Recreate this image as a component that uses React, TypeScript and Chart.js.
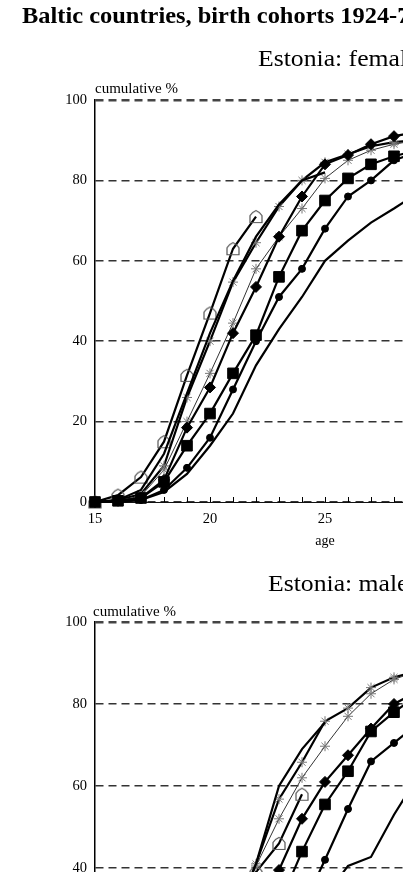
import React, { useEffect, useRef } from "react";
import { Chart, registerables } from "chart.js";

Chart.register(...registerables);

// ages 15..35 ; each series array starts at age 15
const ages = [15, 16, 17, 18, 19, 20, 21, 22, 23, 24, 25, 26, 27, 28, 29, 30, 31, 32, 33, 34, 35];
const xTickLabels = [15, 20, 25, 30, 35];
const yTickLabels = [0, 20, 40, 60, 80, 100];

// Estonia: females (cumulative %)
const femPlain = [0, 0, 0.5, 2.5, 7, 14, 22, 34, 43, 51, 60, 65, 69.5, 73, 76.7, 78.5];
const femCircle = [0, 0, 0.5, 3, 8.5, 16, 28, 40, 51, 58, 68, 76, 80, 85, 87, 88];
const femSquare = [0, 0.3, 1, 5, 14, 22, 32, 41.5, 56, 67.5, 75, 80.5, 84, 86, 87.5, 88.5];
const femDiamond = [0, 0.3, 1, 5.5, 18.5, 28.5, 42, 53.5, 66, 76, 84, 86.3, 89, 91, 92, 92.5];
const femStarThick = [0, 0.5, 2, 9, 26, 40, 54.7, 64.5, 73.5, 80, 84.5, 86.5, 88.5, 89.5, 90, 90.5];
const femStarThin = [0, 0.3, 1.5, 8, 20, 32, 44.5, 58, 66, 73, 80.5, 85, 87.5, 89, 90, 90.5];
const femPlain2 = [0, 0.5, 3, 12, 27, 42, 55, 66, 74, 80, 82];
const femPentagon = [0, 1.7, 6.2, 15, 31.5, 47, 63, 71];

// Estonia: males (cumulative %)
const malPlain = [0, 0, 0, 0.5, 1, 2, 3, 5, 10, 20, 33, 40.5, 42.7, 53, 62, 66];
const malCircle = [0, 0, 0, 0.5, 1, 2.5, 5, 11, 20, 30, 42, 54.4, 66, 70.5, 75, 78];
const malSquare = [0, 0, 0, 0.5, 1.5, 4, 9, 19, 31, 44, 55.5, 63.6, 73.3, 78, 82, 84];
const malDiamond = [0, 0, 0.3, 1, 2.5, 6, 14, 27, 39.5, 52, 61, 67.5, 74, 80, 83, 85];
const malStarThick = [0, 0, 0.5, 2, 6, 14, 27, 41, 56.8, 65.8, 75.8, 79, 84, 86.5, 88, 89];
const malStarThin = [0, 0, 0.3, 1.5, 5, 13, 26, 40.5, 52, 62, 69.7, 77, 82.5, 86, 88, 89];
const malPlain2 = [0, 0, 0.5, 2, 7, 15, 27, 41, 60, 69, 75.5];
const malPentagon = [0, 0, 0.5, 2, 6, 15, 27, 39, 46, 58];

const SERIF = "'Liberation Serif', 'Times New Roman', serif";

function makePentagon(): HTMLCanvasElement {
  const c = document.createElement("canvas");
  c.width = 16;
  c.height = 15;
  const g = c.getContext("2d")!;
  g.strokeStyle = "#555";
  g.lineWidth = 1.2;
  g.beginPath();
  g.moveTo(2, 13.5);
  g.lineTo(2, 6.5);
  g.quadraticCurveTo(4, 3, 8, 1.5);
  g.quadraticCurveTo(12, 3, 14, 6.5);
  g.lineTo(14, 13.5);
  g.closePath();
  g.stroke();
  return c;
}

function pts(arr: number[]) {
  return arr.map((v, i) => ({ x: ages[i], y: v }));
}

function buildDatasets(s: {
  plain: number[]; circle: number[]; square: number[]; diamond: number[];
  starThick: number[]; starThin: number[]; plain2: number[]; pentagon: number[];
}) {
  const pent = makePentagon();
  const base = { tension: 0, clip: false as const, borderColor: "#000", borderWidth: 2.2 };
  return [
    { ...base, label: "plain", data: pts(s.plain), pointRadius: 0 },
    { ...base, label: "circle", data: pts(s.circle), pointStyle: "circle", pointRadius: 3.5, pointBackgroundColor: "#000", pointBorderColor: "#000", pointBorderWidth: 1 },
    { ...base, label: "square", data: pts(s.square), pointStyle: "rect", pointRadius: 7.5, pointBackgroundColor: "#000", pointBorderColor: "#000", pointBorderWidth: 1 },
    { ...base, label: "diamond", data: pts(s.diamond), pointStyle: "rectRot", pointRadius: 5.5, pointBackgroundColor: "#000", pointBorderColor: "#000", pointBorderWidth: 1 },
    { ...base, label: "plain2", data: pts(s.plain2), pointRadius: 0 },
    { ...base, label: "starThin", data: pts(s.starThin), borderWidth: 1, borderColor: "#333", pointStyle: "star", pointRadius: 5, pointBorderColor: "#777", pointBackgroundColor: "#777", pointBorderWidth: 1 },
    { ...base, label: "starThick", data: pts(s.starThick), pointStyle: "star", pointRadius: 5, pointBorderColor: "#777", pointBackgroundColor: "#777", pointBorderWidth: 1 },
    { ...base, label: "pentagon", data: pts(s.pentagon), pointStyle: pent, pointRadius: 7 },
  ];
}

const innerTicks = {
  id: "innerTicks",
  afterDatasetsDraw(chart: any) {
    const { ctx, chartArea } = chart;
    const x = chart.scales.x;
    ctx.save();
    ctx.strokeStyle = "#000";
    ctx.lineWidth = 1;
    for (const a of ages) {
      const px = Math.round(x.getPixelForValue(a)) + 0.5;
      ctx.beginPath();
      ctx.moveTo(px, chartArea.bottom);
      ctx.lineTo(px, chartArea.bottom - 5);
      ctx.stroke();
    }
    ctx.restore();
  },
};

function Panel(props: { top: number; padTop: number; height: number; series: any }) {
  const ref = useRef<HTMLCanvasElement>(null);
  useEffect(() => {
    const chart = new Chart(ref.current!, {
      type: "line",
      data: { datasets: buildDatasets(props.series) as any },
      options: {
        animation: false,
        responsive: false,
        maintainAspectRatio: false,
        layout: { padding: { top: props.padTop, right: 65, left: 0, bottom: 0 } },
        plugins: { legend: { display: false }, tooltip: { enabled: false } },
        scales: {
          x: {
            type: "linear",
            min: 15,
            max: 35,
            afterFit: (s: any) => { s.height = 58; },
            afterBuildTicks: (s: any) => { s.ticks = xTickLabels.map((v) => ({ value: v })); },
            ticks: { font: { family: SERIF, size: 14.5 }, color: "#000", padding: 8, maxRotation: 0 },
            grid: { display: true, drawOnChartArea: false, drawTicks: false },
            border: { display: true, color: "#111", width: 1 },
            title: { display: true, text: "age", font: { family: SERIF, size: 14 }, color: "#000", padding: { top: 0, bottom: 10 } },
          },
          y: {
            min: 0,
            max: 100,
            afterFit: (s: any) => { s.width = 95; },
            afterBuildTicks: (s: any) => { s.ticks = yTickLabels.map((v) => ({ value: v })); },
            ticks: { font: { family: SERIF, size: 14.5 }, color: "#000", padding: 8 },
            grid: {
              drawTicks: false,
              color: (c: any) => (c.tick && c.tick.value === 100 ? "#444" : "#333"),
              lineWidth: (c: any) => (c.tick && c.tick.value === 100 ? 2.5 : 1.5),
            },
            border: { display: true, color: "#000", width: 1.5, dash: [8, 5] },
          },
        },
      } as any,
      plugins: [innerTicks],
    });
    return () => chart.destroy();
  }, []);
  return (
    <canvas
      ref={ref}
      width={620}
      height={props.height}
      style={{ position: "absolute", left: 0, top: props.top, display: "block" }}
    />
  );
}

export default function App() {
  const fem = { plain: femPlain, circle: femCircle, square: femSquare, diamond: femDiamond, starThick: femStarThick, starThin: femStarThin, plain2: femPlain2, pentagon: femPentagon };
  const mal = { plain: malPlain, circle: malCircle, square: malSquare, diamond: malDiamond, starThick: malStarThick, starThin: malStarThin, plain2: malPlain2, pentagon: malPentagon };
  const textBase: React.CSSProperties = { position: "absolute", fontFamily: SERIF, color: "#000", whiteSpace: "nowrap", lineHeight: 1 };
  return (
    <div style={{ position: "fixed", left: 0, top: 0, width: 403, height: 872, overflow: "hidden", background: "#fff" }}>
      <Panel top={0} padTop={100} height={560} series={fem} />
      <Panel top={560} padTop={62} height={530} series={mal} />
      <div style={{ ...textBase, left: 22, top: 2.5, fontSize: 24, fontWeight: "bold", transform: "scaleX(1.018)", transformOrigin: "left center" }}>
        Baltic countries, birth cohorts 1924-78
      </div>
      <div style={{ ...textBase, left: 258, top: 45.5, fontSize: 24, transform: "scaleX(1.07)", transformOrigin: "left center" }}>
        Estonia: females
      </div>
      <div style={{ ...textBase, left: 95, top: 80.5, fontSize: 15 }}>cumulative %</div>
      <div style={{ ...textBase, left: 268, top: 570.5, fontSize: 24, transform: "scaleX(1.07)", transformOrigin: "left center" }}>
        Estonia: males
      </div>
      <div style={{ ...textBase, left: 93, top: 603.5, fontSize: 15 }}>cumulative %</div>
    </div>
  );
}
